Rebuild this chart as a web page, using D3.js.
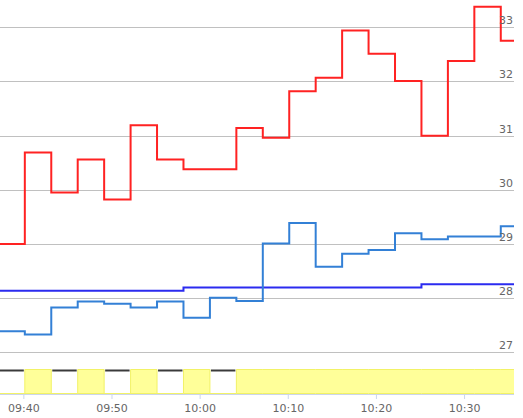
<!DOCTYPE html>
<html>
<head>
	<meta charset="utf-8">
	<style>
		body { margin: 0; background: #fff; }
		svg { display: block; font-family: 'DejaVu Sans', Verdana, sans-serif; }
		.grid line { stroke: #c0c0c0; stroke-width: 1; }
		.ylab { font-size: 11px; fill: #666; text-anchor: end; }
		.xlab { font-size: 11px; fill: #666; text-anchor: middle; }
	</style>
	<script src="https://cdn.jsdelivr.net/npm/d3@7"></script>
</head>
<body>
	<svg id="chart" width="523" height="418"></svg>
	<script>
		// samples every 3 minutes (a few seconds past the minute)
		var times = ['09:37:10', '09:40:10', '09:43:10', '09:46:10', '09:49:10', '09:52:10', '09:55:10',
			'09:58:10', '10:01:10', '10:04:10', '10:07:10', '10:10:10', '10:13:10', '10:16:10', '10:19:10',
			'10:22:10', '10:25:10', '10:28:10', '10:31:10', '10:34:10', '10:37:10'];

		var redValues = [29.0, 30.69, 29.95, 30.56, 29.82, 31.19, 30.56, 30.38, 30.38, 31.14, 30.96,
			31.82, 32.07, 32.94, 32.51, 32.01, 31.0, 32.38, 33.38, 32.75, 32.75];

		var lightBlueValues = [27.39, 27.33, 27.83, 27.94, 27.90, 27.83, 27.94, 27.64, 28.01, 27.95, 29.01,
			29.39, 28.58, 28.82, 28.89, 29.20, 29.09, 29.14, 29.14, 29.33, 29.33];

		var darkBlueValues = [28.14, 28.14, 28.14, 28.14, 28.14, 28.14, 28.14, 28.20, 28.20, 28.20, 28.20,
			28.20, 28.20, 28.20, 28.20, 28.20, 28.26, 28.26, 28.26, 28.26, 28.26];

		// on/off state shown in the yellow band
		var stateValues = [0, 1, 0, 1, 0, 1, 0, 1, 0, 1, 1, 1, 1, 1, 1, 1, 1, 1, 1, 1, 1];

		var yTicks = [27, 28, 29, 30, 31, 32, 33];
		var xTickLabels = ['09:40', '09:50', '10:00', '10:10', '10:20', '10:30'];

		var parseTime = d3.timeParse('%H:%M:%S');
		var parseTick = d3.timeParse('%H:%M');

		var width = 523, plotRight = 514;

		var x = d3.scaleTime()
			.domain([parseTime('09:37:21'), parseTime('10:35:40')])
			.range([0, plotRight]);

		var y = d3.scaleLinear()
			.domain([27, 33])
			.range([352.4, 27.3]);

		var yBand = d3.scaleLinear()
			.domain([0, 1])
			.range([393.5, 369.5]);

		var svg = d3.select('#chart');

		svg.append('defs').append('clipPath')
			.attr('id', 'plot-clip')
			.append('rect')
			.attr('x', 0).attr('y', 0)
			.attr('width', plotRight).attr('height', 418);

		// grid lines
		svg.append('g').attr('class', 'grid')
			.selectAll('line')
			.data(yTicks)
			.enter()
			.append('line')
			.attr('x1', 0)
			.attr('x2', plotRight)
			.attr('y1', function(d){ return Math.round(y(d)) + 0.5; })
			.attr('y2', function(d){ return Math.round(y(d)) + 0.5; });

		var rows = times.map(function(t, i){
			return {
				time: parseTime(t),
				red: redValues[i],
				lightBlue: lightBlueValues[i],
				darkBlue: darkBlueValues[i],
				state: stateValues[i]
			};
		});

		var plot = svg.append('g').attr('clip-path', 'url(#plot-clip)');

		// state band
		var bandArea = d3.area()
			.curve(d3.curveStepAfter)
			.x(function(d){ return x(d.time); })
			.y0(yBand(0))
			.y1(function(d){ return yBand(d.state); });

		plot.append('path')
			.datum(rows)
			.attr('d', bandArea)
			.attr('fill', '#ffff99')
			.attr('stroke', '#f2f266')
			.attr('stroke-width', 1);

		var offRows = rows.filter(function(d, i){ return d.state === 0 && i < rows.length - 1; });
		plot.append('g')
			.selectAll('line')
			.data(offRows)
			.enter()
			.append('line')
			.attr('x1', function(d){ return x(d.time) + 1; })
			.attr('x2', function(d){ return x(rows[rows.indexOf(d) + 1].time) - 1; })
			.attr('y1', yBand(1) + 1)
			.attr('y2', yBand(1) + 1)
			.attr('stroke', '#3a3a3a')
			.attr('stroke-width', 2);

		// x axis
		var xAxis = d3.axisBottom(x)
			.tickValues(xTickLabels.map(parseTick))
			.tickFormat(d3.timeFormat('%H:%M'))
			.tickSize(5)
			.tickPadding(5);

		var xg = svg.append('g')
			.attr('transform', 'translate(0,394)')
			.call(xAxis);
		xg.select('.domain').remove();
		xg.selectAll('.tick line').attr('stroke', '#ccd6eb');
		xg.selectAll('.tick text')
			.attr('class', 'xlab')
			.attr('fill', null)
			.style('font-family', "'DejaVu Sans', Verdana, sans-serif");

		svg.append('line')
			.attr('x1', 0).attr('x2', plotRight)
			.attr('y1', 394.5).attr('y2', 394.5)
			.attr('stroke', '#ccd6eb');

		// series
		var series = [
			{ key: 'darkBlue', color: '#2b2bf0' },
			{ key: 'lightBlue', color: '#3380d6' },
			{ key: 'red', color: '#ff2222' }
		];

		series.forEach(function(s){
			var line = d3.line()
				.curve(d3.curveStepAfter)
				.x(function(d){ return x(d.time); })
				.y(function(d){ return y(d[s.key]); });

			plot.append('path')
				.datum(rows)
				.attr('d', line)
				.attr('fill', 'none')
				.attr('stroke', s.color)
				.attr('stroke-width', 2);
		});

		// y labels
		svg.append('g')
			.selectAll('text')
			.data(yTicks)
			.enter()
			.append('text')
			.attr('class', 'ylab')
			.attr('x', 513)
			.attr('y', function(d){ return Math.round(y(d)) - 3; })
			.text(function(d){ return d; });
	</script>
</body>
</html>
